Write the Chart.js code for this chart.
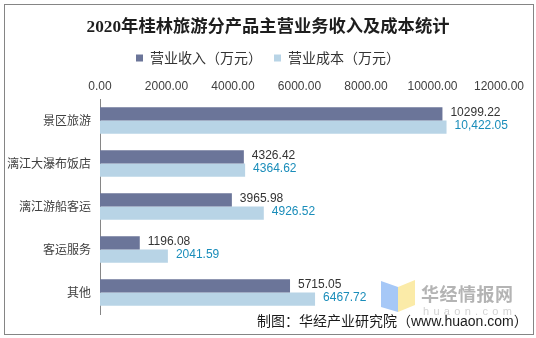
<!DOCTYPE html>
<html lang="zh-CN">
<head>
<meta charset="utf-8">
<title>2020年桂林旅游分产品主营业务收入及成本统计</title>
<script src="https://cdn.jsdelivr.net/npm/chart.js@4.4.1/dist/chart.umd.min.js"></script>
<style>
  html, body { margin: 0; padding: 0; background: #fff; }
  #wrap { position: relative; width: 536px; height: 338px; overflow: hidden; }
  #chart { position: absolute; left: 0; top: 0; }
  #frame { position: absolute; left: 4px; top: 4px; width: 530px; height: 331px; box-sizing: border-box; border: 1px solid #858585; pointer-events: none; }
  .wm-icon { position: absolute; left: 381px; top: 279px; }
  .wm-text { position: absolute; left: 421px; top: 282px; font: bold 18px 'Noto Sans CJK SC'; color: #b4b4b4; line-height: 22px; letter-spacing: 0.5px; white-space: nowrap; }
  .wm-url { position: absolute; left: 423px; top: 305px; font: 11px 'Liberation Sans'; color: #d2d2d2; letter-spacing: 4.3px; line-height: 13px; white-space: nowrap; }
  .source { position: absolute; left: 257px; top: 312px; font: 14px 'Liberation Sans', 'Noto Sans CJK SC'; color: #1a1a1a; line-height: 18px; white-space: nowrap; }
</style>
</head>
<body>
<div id="wrap">
  <canvas id="chart" width="536" height="338"></canvas>
  <svg class="wm-icon" width="36" height="36" viewBox="0 0 36 36">
    <polygon points="0,2 17,8 17,33 0,28" fill="#a6c8f7"/>
    <polygon points="17,8 34,1 34,26 17,33" fill="#fbeba8"/>
  </svg>
  <div class="wm-text">华经情报网</div>
  <div class="wm-url">huaon.com</div>
  <div class="source">制图：华经产业研究院（www.huaon.com）</div>
  <div id="frame"></div>
</div>
<script>
// categories and values (万元)
const categories = ['景区旅游', '漓江大瀑布饭店', '漓江游船客运', '客运服务', '其他'];
const revenue = [10299.22, 4326.42, 3965.98, 1196.08, 5715.05];
const cost = [10422.05, 4364.62, 4926.52, 2041.59, 6467.72];
const seriesNames = ['营业收入（万元）', '营业成本（万元）'];

const revColor = '#6b7599';
const costColor = '#b8d4e6';
const revLabelColor = '#333333';
const costLabelColor = '#1a8dba';

function fmtCost(v) {
  // the source writes the largest cost with a thousands separator
  return v >= 10000 ? v.toLocaleString('en-US', { minimumFractionDigits: 2 }) : v.toFixed(2);
}

// value labels at the end of each bar
const barLabels = {
  id: 'barLabels',
  afterDatasetsDraw(chart) {
    const ctx = chart.ctx;
    ctx.save();
    ctx.font = '12px "Liberation Sans", Arial, sans-serif';
    ctx.textBaseline = 'middle';
    ctx.textAlign = 'left';
    chart.data.datasets.forEach((ds, i) => {
      const meta = chart.getDatasetMeta(i);
      ctx.fillStyle = i === 0 ? revLabelColor : costLabelColor;
      meta.data.forEach((bar, j) => {
        const v = ds.data[j];
        const txt = i === 0 ? v.toFixed(2) : fmtCost(v);
        ctx.fillText(txt, bar.x + 8, bar.y - 1);
      });
    });
    ctx.restore();
  }
};

new Chart(document.getElementById('chart'), {
  type: 'bar',
  data: {
    labels: categories,
    datasets: [
      { label: seriesNames[0], data: revenue, backgroundColor: revColor },
      { label: seriesNames[1], data: cost, backgroundColor: costColor }
    ]
  },
  options: {
    indexAxis: 'y',
    responsive: false,
    animation: false,
    devicePixelRatio: 1,
    categoryPercentage: 0.62,
    barPercentage: 1.0,
    layout: { padding: { left: 7, right: 7, top: 0, bottom: 24 } },
    plugins: {
      title: {
        display: true,
        text: '2020年桂林旅游分产品主营业务收入及成本统计',
        color: '#1e1e1e',
        font: { family: "'Liberation Serif', 'Noto Sans CJK SC'", size: 17.3, weight: 'bold', lineHeight: 1.33 },
        padding: { top: 16, bottom: 0 }
      },
      legend: {
        display: true,
        position: 'top',
        labels: {
          boxWidth: 7,
          boxHeight: 7,
          padding: 12,
          color: '#333',
          font: { family: "'Noto Sans CJK SC'", size: 14 }
        }
      },
      tooltip: { enabled: false }
    },
    scales: {
      x: {
        position: 'top',
        min: 0,
        max: 12000,
        grid: { display: false, drawTicks: false },
        border: { display: false },
        ticks: {
          stepSize: 2000,
          padding: 5,
          color: '#404040',
          font: { family: "'Liberation Sans', Arial", size: 12 },
          callback: v => Number(v).toFixed(2)
        },
        afterFit(scale) { scale.height = 24; }
      },
      y: {
        grid: { display: false, drawTicks: false },
        border: { display: true, color: '#868686', width: 1 },
        ticks: {
          padding: 9,
          color: '#404040',
          font: { family: "'Noto Sans CJK SC'", size: 12 }
        },
        afterFit(scale) { scale.width = 93; }
      },
      // empty right axis, only keeps room for the last tick label
      yRight: {
        position: 'right',
        grid: { display: false, drawTicks: false },
        border: { display: false },
        ticks: { display: false },
        afterFit(scale) { scale.width = 30; }
      }
    }
  },
  plugins: [barLabels]
});
</script>
</body>
</html>
